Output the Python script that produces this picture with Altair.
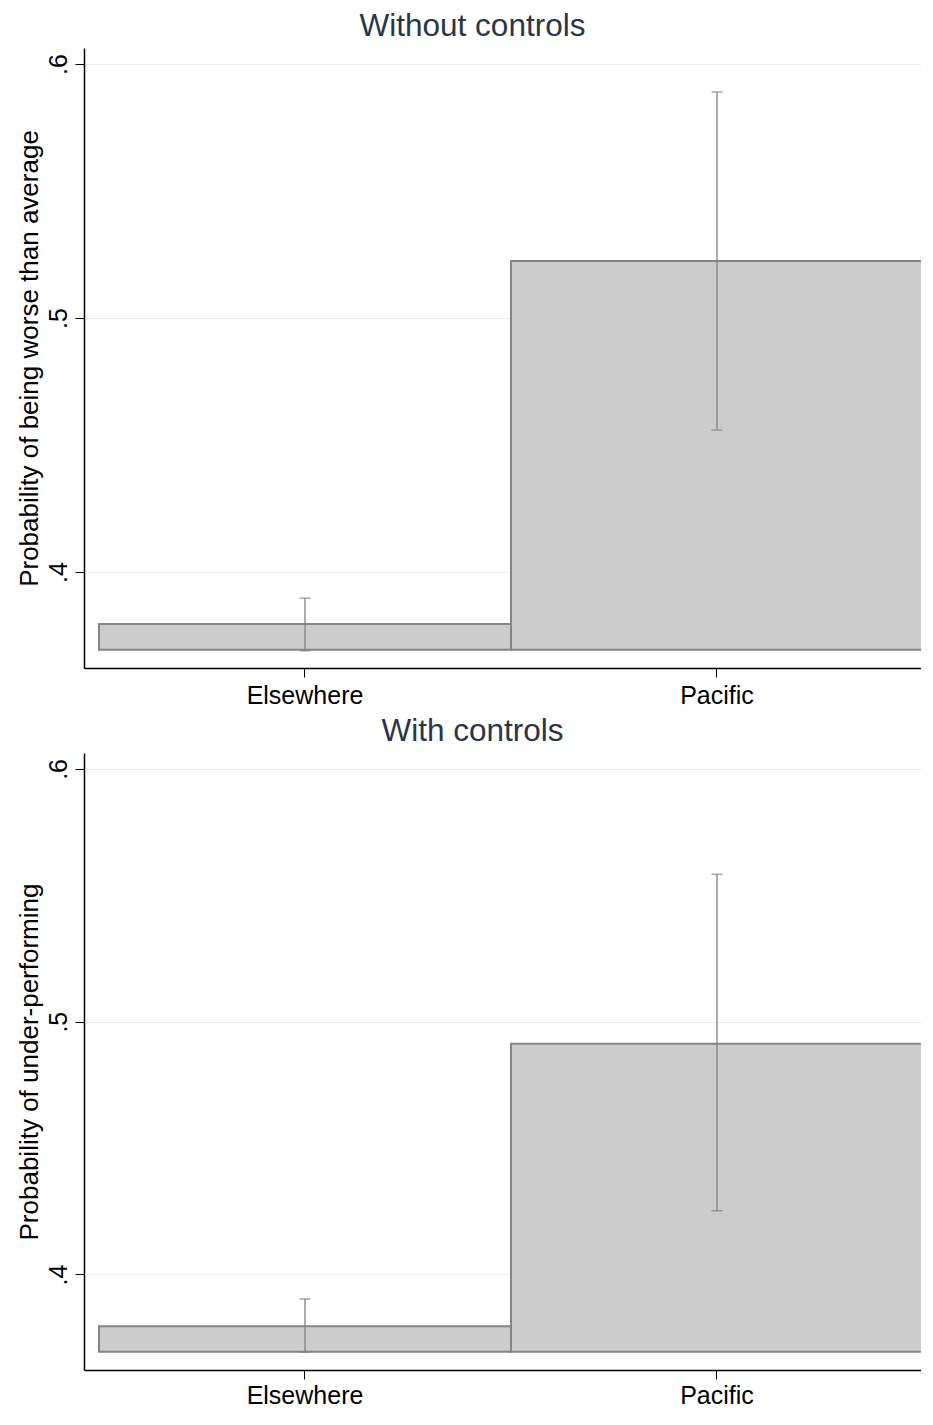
import altair as alt
import pandas as pd

categories = ["Elsewhere", "Pacific"]
base_value = 0.3694
top_means = [0.3795, 0.5224]
top_lower = [0.3690, 0.4559]
top_upper = [0.3897, 0.5890]
bottom_means = [0.3795, 0.4913]
bottom_lower = [0.3692, 0.4252]
bottom_upper = [0.3903, 0.5583]
y_ticks = [0.4, 0.5, 0.6]
y_domain = [0.3622, 0.6063]

FONT = "Liberation Sans"
AXIS_COLOR = "#000000"
ERR_COLOR = "#808080"


def panel(title, ytitle, means, lower, upper, plot_h, title_offset, label_pad):
    df = pd.DataFrame({
        "cat": categories,
        "mean": means,
        "lo": lower,
        "hi": upper,
        "base": [base_value] * len(categories),
    })
    xaxis = alt.Axis(
        labelAngle=0, labelFontSize=25, labelFont=FONT, labelColor="#000",
        tickSize=9, tickColor=AXIS_COLOR, domainColor=AXIS_COLOR,
        domainWidth=1.5, labelPadding=label_pad, grid=False, title=None,
    )
    xscale = alt.Scale(paddingInner=0, paddingOuter=0.0255, align=0.714)
    x = alt.X("cat:N", sort=categories, scale=xscale, axis=xaxis, title=None)
    yaxis = alt.Axis(
        values=y_ticks,
        labelExpr="substring(format(datum.value, '.1f'), 1)",
        labelAngle=270, labelAlign="center", labelBaseline="bottom",
        labelFontSize=25, labelFont=FONT, labelColor="#000", labelPadding=4,
        tickSize=9, tickColor=AXIS_COLOR, domainColor=AXIS_COLOR, domainWidth=1.5,
        grid=True, gridColor="#ececec", gridWidth=1,
        title=ytitle, titleFont=FONT, titleFontSize=26, titleFontWeight="normal",
        titleColor="#000", titlePadding=4,
    )
    yscale = alt.Scale(domain=y_domain, nice=False, zero=False)
    base = alt.Chart(df)
    bars = base.mark_bar(fill="#cccccc", stroke="#858585", strokeWidth=2).encode(
        x=x,
        y=alt.Y("base:Q", scale=yscale, axis=yaxis, title=ytitle),
        y2="mean:Q",
    )
    rule = base.mark_rule(color=ERR_COLOR, strokeWidth=1.3).encode(
        x=x,
        y=alt.Y("lo:Q", scale=yscale, axis=yaxis, title=ytitle),
        y2="hi:Q",
    )
    cap_hi = base.mark_tick(color=ERR_COLOR, size=11, thickness=1.5).encode(
        x=x, y=alt.Y("hi:Q", scale=yscale, axis=yaxis, title=ytitle),
    )
    cap_lo = base.mark_tick(color=ERR_COLOR, size=11, thickness=1.5).encode(
        x=x, y=alt.Y("lo:Q", scale=yscale, axis=yaxis, title=ytitle),
    )
    return alt.layer(bars, rule, cap_hi, cap_lo).properties(
        width=845, height=plot_h,
        title=alt.TitleParams(
            text=title, font=FONT, fontSize=31.5, fontWeight="normal",
            color="#2b3548", anchor="middle", frame="bounds", offset=title_offset,
        ),
    )


top = panel("Without controls", "Probability of being worse than average",
            top_means, top_lower, top_upper, 620, 5.5, 6)
bottom = panel("With controls", "Probability of under-performing",
               bottom_means, bottom_lower, bottom_upper, 617, 5.5, 4)

chart = alt.vconcat(top, bottom, spacing=8).properties(
    padding={"left": 8, "top": 3, "right": -8, "bottom": 0}
).configure_view(stroke=None)

chart.save("out.html", embed_options={"renderer": "svg", "actions": False})
